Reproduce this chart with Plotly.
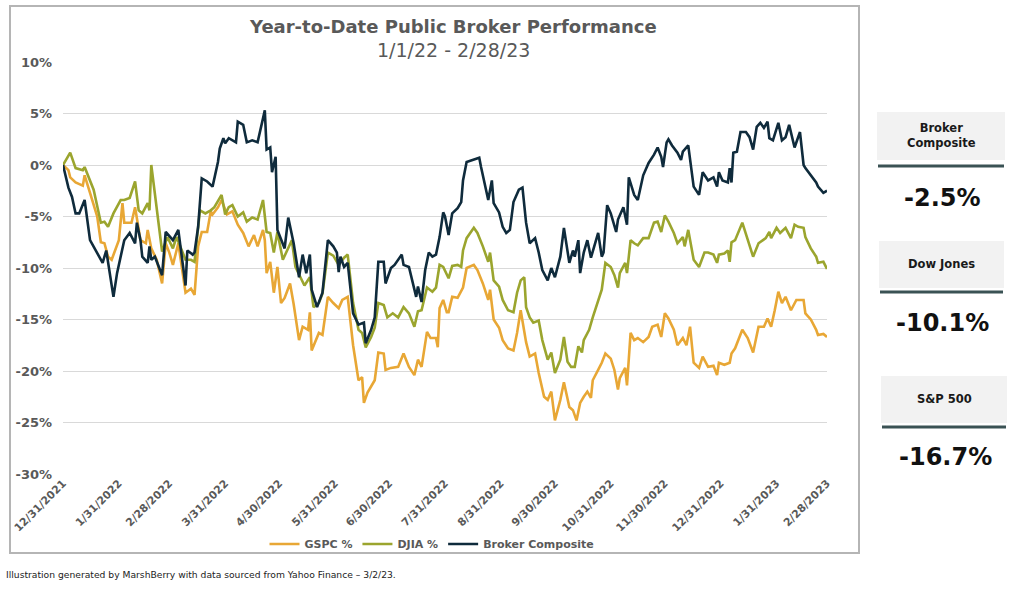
import plotly.graph_objects as go

# ---------------- data ----------------
broker_dates = ["2021-12-31","2022-01-03","2022-01-05","2022-01-07","2022-01-09","2022-01-12","2022-01-15","2022-01-22","2022-01-24","2022-01-28","2022-01-30","2022-02-03","2022-02-06","2022-02-09","2022-02-10","2022-02-12","2022-02-13","2022-02-16","2022-02-17","2022-02-18","2022-02-20","2022-02-24","2022-02-26","2022-03-02","2022-03-05","2022-03-09","2022-03-10","2022-03-13","2022-03-14","2022-03-16","2022-03-18","2022-03-21","2022-03-24","2022-03-27","2022-03-28","2022-03-30","2022-03-31","2022-04-02","2022-04-06","2022-04-07","2022-04-10","2022-04-12","2022-04-15","2022-04-18","2022-04-22","2022-04-23","2022-04-25","2022-04-26","2022-04-28","2022-04-29","2022-05-03","2022-05-05","2022-05-08","2022-05-11","2022-05-13","2022-05-15","2022-05-17","2022-05-18","2022-05-21","2022-05-24","2022-05-27","2022-05-30","2022-06-01","2022-06-02","2022-06-03","2022-06-05","2022-06-07","2022-06-10","2022-06-13","2022-06-16","2022-06-17","2022-06-20","2022-06-22","2022-06-24","2022-06-27","2022-06-28","2022-07-01","2022-07-03","2022-07-07","2022-07-08","2022-07-11","2022-07-13","2022-07-15","2022-07-16","2022-07-18","2022-07-20","2022-07-22","2022-07-24","2022-07-26","2022-07-28","2022-07-30","2022-07-31","2022-08-02","2022-08-04","2022-08-07","2022-08-09","2022-08-10","2022-08-12","2022-08-15","2022-08-19","2022-08-20","2022-08-22","2022-08-24","2022-08-26","2022-08-27","2022-08-30","2022-09-01","2022-09-03","2022-09-05","2022-09-07","2022-09-10","2022-09-12","2022-09-14","2022-09-16","2022-09-19","2022-09-21","2022-09-23","2022-09-26","2022-09-28","2022-09-30","2022-10-03","2022-10-05","2022-10-08","2022-10-10","2022-10-11","2022-10-13","2022-10-14","2022-10-16","2022-10-18","2022-10-20","2022-10-23","2022-10-24","2022-10-26","2022-10-27","2022-10-29","2022-10-31","2022-11-03","2022-11-04","2022-11-07","2022-11-09","2022-11-10","2022-11-13","2022-11-15","2022-11-18","2022-11-21","2022-11-24","2022-11-26","2022-11-28","2022-11-29","2022-12-01","2022-12-02","2022-12-04","2022-12-07","2022-12-09","2022-12-10","2022-12-13","2022-12-16","2022-12-19","2022-12-21","2022-12-24","2022-12-27","2022-12-29","2022-12-30","2023-01-01","2023-01-04","2023-01-05","2023-01-06","2023-01-07","2023-01-09","2023-01-11","2023-01-14","2023-01-16","2023-01-18","2023-01-20","2023-01-22","2023-01-24","2023-01-26","2023-01-27","2023-01-29","2023-02-01","2023-02-03","2023-02-05","2023-02-07","2023-02-10","2023-02-13","2023-02-15","2023-02-16","2023-02-19","2023-02-22","2023-02-23","2023-02-26","2023-02-28"]
broker_pct = [0,-2.2,-3.1,-4.7,-4.7,-3.4,-7.3,-9.5,-8.3,-12.8,-10.5,-7.3,-6.6,-7.6,-5.6,-7.3,-8.9,-9.5,-7.9,-9.2,-8.9,-10.7,-6.5,-7.3,-6.3,-11.7,-8.3,-8.7,-8.5,-6.0,-1.3,-1.6,-2.1,0.3,1.6,2.6,2.1,2.6,2.2,4.2,3.9,2.2,2.4,2.2,5.3,1.5,1.7,-0.7,0.8,-6.3,-8.1,-5.1,-7.6,-10.9,-8.7,-10.5,-8.7,-12.1,-13.8,-12.4,-7.3,-7.9,-8.5,-10.4,-8.9,-9.9,-9.5,-14.4,-15.5,-15.3,-17.3,-16.0,-14.8,-9.4,-9.4,-11.5,-10.0,-9.7,-8.7,-9.7,-9.9,-11.5,-12.8,-11.8,-13.3,-10.2,-8.5,-8.9,-8.7,-7.0,-4.6,-5.0,-6.8,-4.7,-4.2,-3.6,-1.5,0.3,0.5,0.7,-0.2,-1.7,-3.4,-1.5,-3.7,-4.6,-6.0,-6.6,-6.3,-3.6,-2.4,-2.2,-5.6,-7.6,-7.1,-8.5,-10.2,-11.2,-10.0,-10.9,-8.9,-6.1,-9.5,-8.3,-8.9,-7.3,-10.5,-8.5,-7.3,-9.0,-7.3,-6.6,-8.9,-8.5,-3.9,-4.7,-6.5,-5.3,-4.1,-5.8,-1.2,-2.9,-3.4,-1.0,0.2,1.0,1.7,0.8,-0.2,2.2,2.5,1.9,1.2,0.5,1.3,1.9,-2.1,-2.9,-0.7,-1.5,-1.2,-2.1,-0.7,-1.5,-1.7,-0.3,-1.7,1.2,1.3,3.2,3.2,2.7,1.5,3.7,4.1,3.6,4.2,2.6,2.4,4.1,2.4,2.7,3.9,1.7,3.2,0.0,-0.3,-1.0,-1.7,-2.1,-2.7,-2.5]

gspc_dates = ["2021-12-31","2022-01-03","2022-01-04","2022-01-07","2022-01-11","2022-01-12","2022-01-15","2022-01-19","2022-01-21","2022-01-23","2022-01-25","2022-01-27","2022-01-31","2022-02-02","2022-02-03","2022-02-07","2022-02-09","2022-02-12","2022-02-15","2022-02-16","2022-02-18","2022-02-21","2022-02-24","2022-02-26","2022-02-28","2022-03-02","2022-03-05","2022-03-09","2022-03-12","2022-03-14","2022-03-16","2022-03-18","2022-03-21","2022-03-23","2022-03-24","2022-03-27","2022-03-29","2022-04-01","2022-04-04","2022-04-07","2022-04-10","2022-04-13","2022-04-16","2022-04-18","2022-04-21","2022-04-22","2022-04-23","2022-04-25","2022-04-27","2022-04-29","2022-05-01","2022-05-03","2022-05-06","2022-05-08","2022-05-11","2022-05-13","2022-05-16","2022-05-17","2022-05-18","2022-05-22","2022-05-24","2022-05-27","2022-05-30","2022-06-02","2022-06-04","2022-06-07","2022-06-10","2022-06-13","2022-06-15","2022-06-16","2022-06-18","2022-06-22","2022-06-24","2022-06-27","2022-06-28","2022-07-01","2022-07-05","2022-07-08","2022-07-11","2022-07-14","2022-07-16","2022-07-18","2022-07-21","2022-07-23","2022-07-26","2022-07-27","2022-07-28","2022-07-30","2022-08-01","2022-08-02","2022-08-04","2022-08-07","2022-08-10","2022-08-12","2022-08-16","2022-08-18","2022-08-21","2022-08-24","2022-08-25","2022-08-27","2022-08-30","2022-09-01","2022-09-04","2022-09-07","2022-09-09","2022-09-11","2022-09-14","2022-09-16","2022-09-19","2022-09-21","2022-09-24","2022-09-26","2022-09-28","2022-09-30","2022-10-03","2022-10-05","2022-10-08","2022-10-10","2022-10-12","2022-10-14","2022-10-16","2022-10-18","2022-10-20","2022-10-21","2022-10-24","2022-10-26","2022-10-28","2022-10-31","2022-11-02","2022-11-04","2022-11-05","2022-11-08","2022-11-09","2022-11-11","2022-11-13","2022-11-15","2022-11-18","2022-11-21","2022-11-23","2022-11-26","2022-11-28","2022-11-30","2022-12-02","2022-12-05","2022-12-07","2022-12-10","2022-12-12","2022-12-14","2022-12-16","2022-12-19","2022-12-21","2022-12-24","2022-12-27","2022-12-29","2022-12-30","2023-01-02","2023-01-05","2023-01-06","2023-01-08","2023-01-12","2023-01-15","2023-01-18","2023-01-21","2023-01-24","2023-01-26","2023-01-28","2023-01-30","2023-02-01","2023-02-03","2023-02-05","2023-02-08","2023-02-11","2023-02-15","2023-02-16","2023-02-19","2023-02-22","2023-02-23","2023-02-26","2023-02-28"]
gspc_pct = [0,-0.5,-1.2,-1.7,-2.0,-1.0,-2.7,-5.0,-7.5,-7.6,-8.9,-9.2,-7.3,-3.7,-5.6,-5.6,-4.1,-7.3,-7.6,-6.3,-8.1,-9.2,-11.5,-7.6,-8.5,-9.7,-7.6,-12.4,-12.0,-12.6,-7.9,-6.5,-6.5,-4.5,-4.8,-4.1,-3.4,-4.8,-4.5,-5.8,-6.6,-7.9,-6.8,-7.9,-6.3,-7.3,-10.5,-9.4,-12.4,-9.9,-13.4,-12.9,-11.5,-13.5,-17.0,-15.7,-16.0,-14.3,-18.0,-16.3,-16.5,-12.8,-13.4,-13.9,-13.1,-12.8,-17.5,-20.9,-20.6,-23.1,-22.1,-20.9,-18.2,-18.3,-19.9,-19.7,-19.6,-18.3,-19.6,-20.4,-18.9,-19.6,-16.2,-16.8,-16.8,-17.7,-13.9,-13.1,-14.3,-14.3,-12.8,-12.9,-11.9,-10.0,-9.7,-10.2,-11.5,-13.1,-12.1,-15.0,-15.8,-17.0,-17.8,-18.0,-16.3,-14.1,-17.2,-18.6,-18.3,-20.2,-22.5,-22.8,-22.0,-24.8,-22.8,-21.1,-23.5,-23.8,-24.8,-23.1,-22.5,-22.0,-22.6,-20.9,-19.9,-19.2,-18.3,-18.8,-19.9,-21.8,-20.7,-19.7,-21.4,-16.3,-17.0,-16.8,-17.2,-16.7,-15.7,-15.5,-16.7,-14.4,-14.9,-16.0,-17.5,-16.8,-17.5,-15.7,-19.2,-19.7,-18.6,-19.6,-19.5,-20.4,-19.2,-19.4,-19.2,-18.3,-17.8,-16.0,-16.8,-18.2,-15.7,-15.7,-14.9,-15.7,-14.1,-12.3,-13.4,-12.8,-14.1,-13.1,-13.1,-14.4,-15.0,-16.0,-16.5,-16.4,-16.7]

djia_dates = ["2021-12-31","2022-01-04","2022-01-07","2022-01-11","2022-01-12","2022-01-17","2022-01-21","2022-01-23","2022-01-25","2022-01-28","2022-02-01","2022-02-03","2022-02-06","2022-02-09","2022-02-11","2022-02-13","2022-02-16","2022-02-17","2022-02-18","2022-02-21","2022-02-24","2022-02-27","2022-03-02","2022-03-04","2022-03-09","2022-03-12","2022-03-14","2022-03-17","2022-03-20","2022-03-23","2022-03-25","2022-03-29","2022-03-31","2022-04-02","2022-04-04","2022-04-07","2022-04-10","2022-04-12","2022-04-15","2022-04-18","2022-04-21","2022-04-23","2022-04-25","2022-04-27","2022-04-29","2022-05-02","2022-05-04","2022-05-07","2022-05-09","2022-05-12","2022-05-14","2022-05-17","2022-05-19","2022-05-22","2022-05-24","2022-05-27","2022-05-30","2022-06-02","2022-06-05","2022-06-07","2022-06-10","2022-06-13","2022-06-15","2022-06-17","2022-06-20","2022-06-22","2022-06-24","2022-06-27","2022-06-29","2022-07-02","2022-07-05","2022-07-08","2022-07-11","2022-07-14","2022-07-16","2022-07-18","2022-07-21","2022-07-24","2022-07-26","2022-07-28","2022-07-30","2022-08-02","2022-08-04","2022-08-07","2022-08-09","2022-08-10","2022-08-12","2022-08-16","2022-08-18","2022-08-21","2022-08-24","2022-08-25","2022-08-27","2022-08-30","2022-09-01","2022-09-04","2022-09-07","2022-09-09","2022-09-11","2022-09-13","2022-09-14","2022-09-16","2022-09-18","2022-09-21","2022-09-23","2022-09-26","2022-09-28","2022-09-30","2022-10-03","2022-10-05","2022-10-07","2022-10-09","2022-10-11","2022-10-13","2022-10-15","2022-10-16","2022-10-19","2022-10-21","2022-10-24","2022-10-26","2022-10-28","2022-10-31","2022-11-02","2022-11-04","2022-11-05","2022-11-08","2022-11-09","2022-11-11","2022-11-13","2022-11-15","2022-11-18","2022-11-21","2022-11-24","2022-11-26","2022-11-28","2022-11-30","2022-12-02","2022-12-05","2022-12-07","2022-12-10","2022-12-11","2022-12-13","2022-12-16","2022-12-19","2022-12-22","2022-12-24","2022-12-27","2022-12-29","2022-12-30","2023-01-02","2023-01-04","2023-01-05","2023-01-06","2023-01-08","2023-01-12","2023-01-15","2023-01-18","2023-01-21","2023-01-25","2023-01-27","2023-01-28","2023-01-31","2023-02-02","2023-02-05","2023-02-08","2023-02-10","2023-02-12","2023-02-15","2023-02-16","2023-02-19","2023-02-22","2023-02-23","2023-02-26","2023-02-28"]
djia_pct = [0,1.2,-0.3,-0.5,-0.2,-2.4,-5.6,-5.5,-6.0,-4.7,-3.4,-3.4,-3.2,-1.6,-4.4,-4.7,-3.7,-4.4,0.0,-4.4,-8.4,-7.0,-8.1,-7.0,-9.2,-9.2,-9.4,-4.4,-4.7,-4.4,-4.1,-2.9,-4.8,-4.1,-3.9,-5.0,-4.6,-5.5,-5.1,-5.3,-3.4,-6.5,-6.6,-8.5,-6.5,-9.2,-8.5,-7.3,-9.9,-10.9,-11.7,-10.9,-13.8,-13.4,-12.5,-8.5,-8.8,-9.7,-9.0,-8.7,-13.4,-16.0,-16.3,-17.7,-16.7,-15.8,-13.4,-13.6,-14.8,-14.4,-14.8,-13.8,-14.4,-15.7,-14.2,-14.1,-11.9,-12.3,-11.9,-9.7,-9.9,-11.0,-9.8,-9.7,-9.9,-8.3,-7.1,-6.1,-6.6,-7.9,-9.4,-8.5,-11.2,-11.8,-13.1,-14.1,-14.3,-12.4,-11.2,-10.9,-13.8,-14.8,-15.3,-15.1,-17.0,-18.9,-18.2,-20.2,-18.9,-16.7,-19.1,-19.6,-19.6,-17.6,-18.2,-17.0,-16.0,-14.8,-13.1,-12.1,-9.5,-9.9,-10.7,-11.9,-10.5,-9.5,-10.5,-7.3,-7.6,-7.8,-7.1,-7.1,-5.6,-5.5,-6.5,-4.9,-5.5,-6.6,-7.6,-7.0,-7.9,-6.3,-9.2,-9.9,-8.5,-8.5,-8.7,-9.5,-8.7,-8.6,-8.3,-9.4,-7.5,-7.3,-5.6,-7.3,-8.9,-7.6,-7.1,-6.5,-7.1,-6.1,-6.6,-6.1,-7.1,-5.8,-6.0,-6.1,-7.0,-8.1,-8.9,-9.5,-9.4,-10.1]

series_names = ["GSPC %", "DJIA %", "Broker Composite"]

y_tick_vals = [10, 5, 0, -5, -10, -15, -20, -25, -30]
y_tick_text = ["10%", "5%", "0%", "-5%", "-10%", "-15%", "-20%", "-25%", "-30%"]

x_tick_vals = ["2021-12-31","2022-01-31","2022-02-28","2022-03-31","2022-04-30","2022-05-31","2022-06-30","2022-07-31","2022-08-31","2022-09-30","2022-10-31","2022-11-30","2022-12-31","2023-01-31","2023-02-28"]
x_tick_text = ["12/31/2021","1/31/2022","2/28/2022","3/31/2022","4/30/2022","5/31/2022","6/30/2022","7/31/2022","8/31/2022","9/30/2022","10/31/2022","11/30/2022","12/31/2022","1/31/2023","2/28/2023"]

title_text = "Year-to-Date Public Broker Performance"
subtitle_text = "1/1/22 - 2/28/23"
footer_text = "Illustration generated by MarshBerry with data sourced from Yahoo Finance – 3/2/23."

panel_labels = ["Broker<br>Composite", "Dow Jones", "S&P 500"]
panel_values = ["-2.5%", "-10.1%", "-16.7%"]

# ---------------- styling ----------------
W, H = 1024, 590
PL, PR, PT, PB = 63, 827, 62, 474   # plot-area pixel box
FONT = "DejaVu Sans"
GRAY = "#595959"
colors = ["#E8A735", "#9BA52E", "#0F2B3C"]


def px(x):
    return (x - PL) / (PR - PL)


def py(y):
    return (PB - y) / (PB - PT)


fig = go.Figure()
for name, xs, ys, col in [
    (series_names[0], gspc_dates, gspc_pct, colors[0]),
    (series_names[1], djia_dates, djia_pct, colors[1]),
    (series_names[2], broker_dates, broker_pct, colors[2]),
]:
    fig.add_trace(go.Scatter(x=xs, y=ys, name=name, mode="lines",
                             line=dict(color=col, width=2.6)))

shapes = []
# outer chart frame
shapes.append(dict(type="rect", xref="paper", yref="paper",
                   x0=px(10), x1=px(859), y0=py(553), y1=py(6),
                   line=dict(color="#b5b5b5", width=2), fillcolor="rgba(0,0,0,0)",
                   layer="below"))

annotations = [
    dict(text="<b>" + title_text + "</b>", x=px(453), y=py(27), xref="paper", yref="paper",
         showarrow=False, xanchor="center", yanchor="middle",
         font=dict(family=FONT, size=18, color=GRAY)),
    dict(text=subtitle_text, x=px(453), y=py(50), xref="paper", yref="paper",
         showarrow=False, xanchor="center", yanchor="middle",
         font=dict(family=FONT, size=19, color=GRAY)),
    dict(text=footer_text, x=px(4), y=py(574), xref="paper", yref="paper",
         showarrow=False, xanchor="left", yanchor="middle",
         font=dict(family=FONT, size=9.2, color="#222222")),
]

# right-side summary panel
boxes = [(877, 1005, 112, 160, 166, 198), (879, 1004, 241, 288, 292, 323), (881, 1007, 376, 423, 427, 457)]
for (bx0, bx1, by0, by1, ly, vy), lab, val in zip(boxes, panel_labels, panel_values):
    shapes.append(dict(type="rect", xref="paper", yref="paper",
                       x0=px(bx0), x1=px(bx1), y0=py(by1), y1=py(by0),
                       line=dict(width=0), fillcolor="#f2f2f2"))
    shapes.append(dict(type="line", xref="paper", yref="paper",
                       x0=px(bx0 + 1), x1=px(bx1 - 1), y0=py(ly), y1=py(ly),
                       line=dict(color="#3a5254", width=3)))
    annotations.append(dict(text="<b>" + lab + "</b>", x=px((bx0 + bx1) / 2), y=py((by0 + by1) / 2 - 1),
                            xref="paper", yref="paper", showarrow=False,
                            xanchor="center", yanchor="middle",
                            font=dict(family=FONT, size=11.5, color="#1a1a1a")))
    annotations.append(dict(text="<b>" + val + "</b>", x=px((bx0 + bx1) / 2 + 1), y=py(vy),
                            xref="paper", yref="paper", showarrow=False,
                            xanchor="center", yanchor="middle",
                            font=dict(family=FONT, size=24, color="#111111")))

fig.update_layout(
    width=W, height=H,
    margin=dict(l=PL, r=W - PR, t=PT, b=H - PB, pad=0),
    paper_bgcolor="white", plot_bgcolor="white",
    font=dict(family=FONT, color=GRAY),
    showlegend=True,
    legend=dict(orientation="h", x=px(432), y=py(544), xanchor="center", yanchor="middle",
                font=dict(family=FONT, size=11, color=GRAY, weight="bold"),
                bgcolor="rgba(0,0,0,0)", itemwidth=30, traceorder="normal"),
    shapes=shapes,
    annotations=annotations,
    hovermode=False,
)

fig.update_yaxes(range=[-30, 10], tickmode="array", tickvals=y_tick_vals, ticktext=y_tick_text,
                 showgrid=True, gridcolor="#d9d9d9", gridwidth=1, zeroline=False, showline=False,
                 ticks="", ticklabelstandoff=10,
                 tickfont=dict(family=FONT, size=13, color=GRAY, weight="bold"), fixedrange=True)
fig.update_xaxes(type="date", range=["2021-12-31", "2023-02-28"], tickmode="array",
                 tickvals=x_tick_vals, ticktext=x_tick_text, tickangle=-45,
                 showgrid=False, zeroline=False, showline=False, ticks="",
                 tickfont=dict(family=FONT, size=10.8, color=GRAY, weight="bold"), fixedrange=True)

fig.write_html("out.html", config={"displayModeBar": False, "staticPlot": True},
               post_script="document.body.style.margin='0';document.body.style.overflow='hidden';")
